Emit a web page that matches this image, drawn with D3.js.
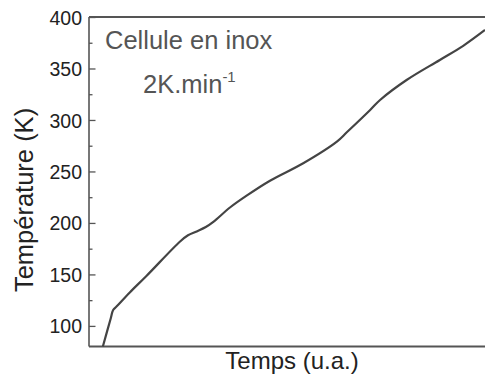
<!DOCTYPE html>
<html>
<head>
<meta charset="utf-8">
<script src="https://cdn.jsdelivr.net/npm/d3@7"></script>
<style>
  body { margin: 0; background: #fff; }
  text { font-family: "Liberation Sans", Arial, sans-serif; }
</style>
</head>
<body>
<div id="chart-area"></div>
<script>
// temps en unites arbitraires, temperature en K
var timeVals = [3.5, 5.5, 6.1, 7.0, 10.3, 14.5, 23.0, 25.0, 27.2, 29.5, 31.4, 35.6, 39.8, 45.7, 54.1, 62.6, 65.1, 71.0, 73.5, 80.2, 88.6, 94.5, 100];
var tempVals = [80, 107.5, 115.5, 119, 132.5, 148.5, 182, 188, 191.8, 196, 201, 215, 226.5, 241, 258, 279, 288, 309.7, 319.4, 338.8, 358.3, 372, 387.4];
var majorTicks = [100, 150, 200, 250, 300, 350, 400];
var minorTicks = [125, 175, 225, 275, 325, 375];

var margin = {left: 89, top: 17, bottom: 29.5, right: 0};
var width = 485 - margin.left - margin.right;
var height = 376 - margin.top - margin.bottom;

var svg = d3.select("#chart-area")
    .append("svg")
        .attr("width", 485)
        .attr("height", 376);

var g = svg.append("g")
    .attr("transform", "translate(" + margin.left + ", " + margin.top + ")");

var x = d3.scaleLinear()
    .domain([0, 100])
    .range([0, width]);

var y = d3.scaleLinear()
    .domain([80, 400])
    .range([height, 0]);

// minor ticks (inside)
g.append("g")
    .attr("class", "y-minor")
    .call(d3.axisLeft(y).tickValues(minorTicks).tickSize(-3.5).tickFormat(""))
    .call(function(s){ s.select(".domain").remove(); })
    .selectAll("line")
        .attr("stroke", "#555")
        .attr("stroke-width", 1.3);

// major ticks + labels
var yAxis = g.append("g")
    .attr("class", "y-axis")
    .call(d3.axisLeft(y).tickValues(majorTicks).tickSize(-6.5).tickPadding(7));
yAxis.select(".domain").remove();
yAxis.selectAll("line")
    .attr("stroke", "#555")
    .attr("stroke-width", 1.3);
yAxis.selectAll("text")
    .attr("font-size", "19.5px")
    .attr("fill", "#222")
    .attr("dy", "0.36em")
    .style("font-family", "'Liberation Sans', Arial, sans-serif");

// frame (left, top, bottom)
g.append("line")
    .attr("x1", 0).attr("x2", 0)
    .attr("y1", 0).attr("y2", height)
    .attr("stroke", "#555").attr("stroke-width", 1.6);
g.append("line")
    .attr("x1", 0).attr("x2", width + 5)
    .attr("y1", 0).attr("y2", 0)
    .attr("stroke", "#555").attr("stroke-width", 1.8);
g.append("line")
    .attr("x1", 0).attr("x2", width + 5)
    .attr("y1", height).attr("y2", height)
    .attr("stroke", "#555").attr("stroke-width", 1.8);

// courbe
var line = d3.line()
    .x(function(d, i){ return x(timeVals[i]); })
    .y(function(d){ return y(d); })
    .curve(d3.curveCatmullRom.alpha(0.5));

g.append("path")
    .datum(tempVals)
    .attr("fill", "none")
    .attr("stroke", "#444")
    .attr("stroke-width", 2.2)
    .attr("stroke-linejoin", "round")
    .attr("d", line);

// annotation
g.append("text")
    .attr("x", 105 - margin.left)
    .attr("y", 49 - margin.top)
    .attr("font-size", "25.5px")
    .attr("fill", "#555")
    .text("Cellule en inox");

var rate = g.append("text")
    .attr("x", 143 - margin.left)
    .attr("y", 92.5 - margin.top)
    .attr("font-size", "25.5px")
    .attr("fill", "#555");
rate.append("tspan").text("2K.min");
rate.append("tspan")
    .attr("font-size", "15px")
    .attr("dy", "-11")
    .text("-1");

// x label
svg.append("text")
    .attr("x", 292)
    .attr("y", 369)
    .attr("font-size", "24px")
    .attr("fill", "#222")
    .attr("text-anchor", "middle")
    .text("Temps (u.a.)");

// y label
svg.append("text")
    .attr("transform", "translate(33, 200) rotate(-90)")
    .attr("font-size", "25.5px")
    .attr("fill", "#222")
    .attr("text-anchor", "middle")
    .text("Température (K)");
</script>
</body>
</html>
